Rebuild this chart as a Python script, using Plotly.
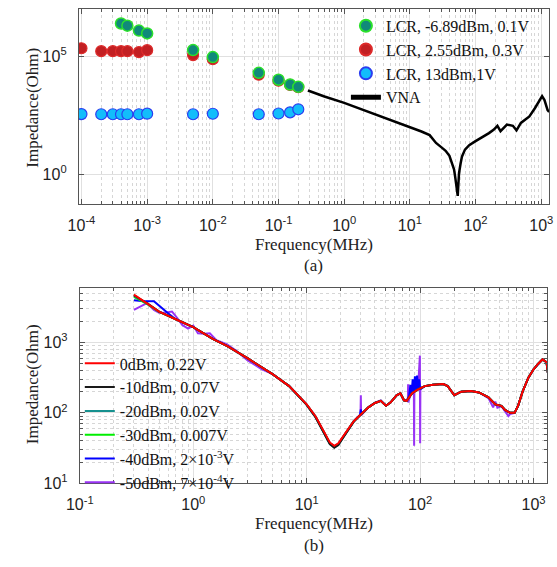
import plotly.graph_objects as go

# ---------------- Panel (a) data ----------------
f_green = [4e-4, 5e-4, 7.5e-4, 1e-3, 5e-3, 1e-2, 5e-2, 0.1, 0.15, 0.2]
z_green = [2.4e6, 1.95e6, 1.2e6, 9.1e5, 1.8e5, 9.1e4, 1.95e4, 1.0e4, 6.3e3, 5.0e3]

f_red = [1e-4, 2e-4, 3e-4, 4e-4, 5e-4, 7.5e-4, 1e-3, 5e-3, 1e-2, 5e-2, 0.1, 0.15, 0.2]
z_red = [2.15e5, 1.62e5, 1.62e5, 1.62e5, 1.62e5, 1.48e5, 1.78e5, 1.1e5, 7.4e4, 1.62e4, 9.1e3, 6.0e3, 4.8e3]

f_blue = [1e-4, 2e-4, 3e-4, 4e-4, 5e-4, 7.5e-4, 1e-3, 5e-3, 1e-2, 5e-2, 0.1, 0.15, 0.2]
z_blue = [350, 345, 345, 345, 345, 345, 365, 345, 362, 345, 372, 415, 560]

f_vna = [0.28, 0.5, 1, 2, 3, 5, 10, 15, 20, 25, 30, 35, 40, 44, 47, 49, 51, 52.5, 53.5, 54.5,
         56, 59, 62, 69, 80, 100, 130, 160, 190, 215, 240, 270, 300, 370, 420, 490, 550,
         660, 800, 940, 1030, 1120, 1250, 1320]
z_vna = [3500, 1950, 1050, 520, 350, 210, 100, 64, 45, 21, 14, 9.8, 6.0, 2.7, 1.6, 0.75, 0.35, 0.2, 0.12, 0.3,
         1.1, 2.7, 5.5, 11, 17, 25, 38, 55, 78, 112, 66, 95, 126, 112, 72, 148, 190,
         280, 620, 1380, 2000, 1380, 520, 430]

# ---------------- Panel (b) data ----------------
f_main = [0.3, 0.4, 0.5, 0.7, 1.0, 1.5, 2, 3, 5, 7, 10, 12, 14, 16, 17.5, 19, 22, 26, 30, 35,
          40, 45, 50, 55, 62, 67, 72, 76, 85, 95, 110, 130, 160, 175, 200, 230, 280, 330,
          400, 460, 520, 560, 620, 680, 730, 800, 900, 1000, 1100, 1200, 1300, 1350]
z_red_b = [4800, 3550, 2750, 2140, 1660, 1120, 890, 600, 355, 240, 132, 89, 56, 38, 34, 37, 52, 76, 95, 120,
           138, 148, 126, 141, 178, 190, 151, 148, 190, 214, 240, 251, 257, 240, 178, 200, 204, 195,
           166, 132, 126, 110, 100, 100, 126, 200, 316, 417, 500, 575, 525, 330]
z_black_b = [4700, 3550, 2750, 2140, 1660, 1120, 890, 600, 355, 240, 130, 86, 53, 36, 32, 35, 50, 75, 95, 120,
             138, 148, 126, 141, 178, 190, 151, 148, 190, 214, 240, 251, 257, 240, 178, 200, 204, 195,
             166, 132, 126, 110, 100, 100, 126, 200, 316, 417, 500, 575, 525, 330]
z_teal_b = [4600, 3500, 2750, 2140, 1660, 1120, 890, 600, 355, 240, 130, 86, 53, 36, 32.5, 35, 50, 75, 95, 120,
            138, 148, 126, 141, 178, 190, 151, 148, 190, 214, 240, 251, 257, 240, 178, 200, 204, 195,
            166, 132, 126, 110, 100, 100, 126, 200, 316, 417, 500, 575, 525, 330]
z_green_b = [4450, 3450, 2720, 2140, 1660, 1120, 890, 600, 355, 240, 131, 88, 55, 37, 33.5, 36, 51, 76, 95, 120,
             138, 148, 126, 141, 178, 190, 151, 148, 190, 214, 240, 251, 257, 240, 178, 200, 204, 195,
             166, 132, 126, 110, 100, 100, 126, 200, 316, 417, 500, 575, 525, 330]

f_blue_b = [0.3, 0.35, 0.45, 0.5, 0.6, 0.7, 1.0, 1.5, 2, 3, 5, 7, 10, 12, 14, 16, 17.5, 19, 22, 26,
            29.5, 30, 30.5, 35, 40, 45, 50, 55, 62, 67, 72, 76, 80, 82, 84, 86, 88, 90, 92, 94, 96, 98,
            100, 110, 130, 160, 175, 200, 230, 280, 330, 400, 460, 520, 560, 620, 680, 730, 800,
            900, 1000, 1100, 1200, 1300, 1350]
z_blue_b = [4000, 3900, 3850, 3300, 2600, 2140, 1660, 1120, 890, 600, 355, 240, 131, 88, 55, 37, 33.5, 36, 51, 76,
            93, 112, 96, 120, 138, 148, 126, 141, 178, 190, 151, 148, 175, 250, 180, 300, 200, 330, 210,
            340, 220, 300, 215, 240, 251, 257, 240, 178, 200, 204, 195, 166, 132, 126, 110, 100, 100,
            126, 200, 316, 417, 500, 575, 525, 330]

f_purple_b = [0.3, 0.35, 0.39, 0.45, 0.5, 0.56, 0.65, 0.72, 0.8, 0.9, 1.0, 1.1, 1.25, 1.4, 1.6, 1.8,
              2.0, 2.4, 3, 4, 5, 7, 10, 12, 14, 16, 17.5, 19, 22, 26, 29.8, 30, 30.2, 35, 40, 45,
              50, 55, 62, 67, 72, 76, 78, 78.3, 78.6, 82, 85, 88, 88.5, 89, 92, 96, 99.5, 100, 100.5,
              110, 130, 160, 175, 200, 230, 280, 330, 400, 440, 460, 480, 520, 560, 600, 620,
              680, 730, 800, 900, 1000, 1100, 1200, 1300, 1350]
z_purple_b = [2900, 3300, 3630, 2900, 2650, 2650, 2750, 2250, 1780, 1580, 1740, 1350, 1330, 1350, 1080, 1000,
              930, 760, 560, 420, 355, 240, 131, 88, 55, 37, 33.5, 36, 51, 76, 95, 178, 92, 120, 140, 150,
              126, 141, 178, 190, 151, 148, 150, 255, 140, 180, 200, 235, 34, 230, 210, 230, 650, 37, 220,
              240, 251, 257, 240, 178, 200, 204, 195, 162, 120, 145, 118, 124, 104, 90, 96,
              100, 126, 200, 316, 417, 500, 575, 525, 330]

legend_a = ["LCR, -6.89dBm, 0.1V", "LCR, 2.55dBm, 0.3V", "LCR, 13dBm,1V", "VNA"]
legend_b = ["0dBm, 0.22V", "-10dBm, 0.07V", "-20dBm, 0.02V", "-30dBm, 0.007V",
            "-40dBm, 2×10<sup>-3</sup>V", "-50dBm, 7×10<sup>-4</sup>V"]

# tick positions / labels
xt_a = [1e-4, 1e-3, 1e-2, 1e-1, 1, 10, 100, 1000]
xl_a = ["10<sup>-4</sup>", "10<sup>-3</sup>", "10<sup>-2</sup>", "10<sup>-1</sup>",
        "10<sup>0</sup>", "10<sup>1</sup>", "10<sup>2</sup>", "10<sup>3</sup>"]
yt_a = [1, 1e5]
yl_a = ["10<sup>0</sup>", "10<sup>5</sup>"]
xt_b = [0.1, 1, 10, 100, 1000]
xl_b = ["10<sup>-1</sup>", "10<sup>0</sup>", "10<sup>1</sup>", "10<sup>2</sup>", "10<sup>3</sup>"]
yt_b = [10, 100, 1000]
yl_b = ["10<sup>1</sup>", "10<sup>2</sup>", "10<sup>3</sup>"]

# minor tick positions (2..9 within each decade)
def minor_positions(k0, k1):
    return [m * 10.0 ** k for k in range(k0, k1 + 1) for m in range(2, 10)]
mx_a = minor_positions(-5, 3)
mx_b = minor_positions(-1, 3)
my_b = minor_positions(1, 3)

SERIF = "Liberation Serif, Times New Roman, serif"
SANS = "Liberation Sans, Arial, sans-serif"

fig = go.Figure()

# panel (a)
fig.add_trace(go.Scatter(x=f_red, y=z_red, mode="markers", name=legend_a[1], legendrank=2,
                         legend="legend", xaxis="x", yaxis="y",
                         marker=dict(size=11, color="#c21f22", line=dict(color="#dd2a2a", width=1.2))))
fig.add_trace(go.Scatter(x=f_green, y=z_green, mode="markers", name=legend_a[0], legendrank=1,
                         legend="legend", xaxis="x", yaxis="y",
                         marker=dict(size=11, color="#10897a", line=dict(color="#2be02b", width=1.5))))
fig.add_trace(go.Scatter(x=f_blue, y=z_blue, mode="markers", name=legend_a[2], legendrank=3,
                         legend="legend", xaxis="x", yaxis="y",
                         marker=dict(size=11, color="#12bdfb", line=dict(color="#2a3df0", width=1.2))))
fig.add_trace(go.Scatter(x=f_vna, y=z_vna, mode="lines", name=legend_a[3], legendrank=4,
                         legend="legend", xaxis="x", yaxis="y",
                         line=dict(color="#000000", width=2.5)))

# panel (b)
cols_b = ["#ff0000", "#1a1a1a", "#16918f", "#00ee00", "#0000ff", "#9932f5"]
series_b = [(f_main, z_red_b), (f_main, z_black_b), (f_main, z_teal_b), (f_main, z_green_b),
            (f_blue_b, z_blue_b), (f_purple_b, z_purple_b)]
for i in [5, 4, 3, 2, 1, 0]:
    fx, zy = series_b[i]
    fig.add_trace(go.Scatter(x=fx, y=zy, mode="lines", name=legend_b[i], legendrank=i + 1,
                             legend="legend2", xaxis="x2", yaxis="y2",
                             line=dict(color=cols_b[i], width=2)))

W, H = 557, 567
def px(x0, x1):
    return [x0 / W, x1 / W]
def py(y0, y1):
    return [1 - y1 / H, 1 - y0 / H]

axis_common = dict(
    type="log", showline=True, linecolor="#555555", linewidth=1, mirror="allticks",
    ticks="inside", ticklen=5, tickcolor="#555555", tickwidth=1, tickmode="array",
    showgrid=True, gridcolor="#e0e0e0", gridwidth=1, zeroline=False,
    tickfont=dict(family=SANS, size=16, color="#222222"),
)
def minor_g(vals):
    return dict(tickmode="array", tickvals=vals, ticks="inside", ticklen=3, tickcolor="#555555",
                showgrid=True, gridcolor="#d6d6d6", griddash="dot", gridwidth=1)

fig.update_layout(
    width=W, height=H, margin=dict(l=0, r=0, t=0, b=0),
    paper_bgcolor="white", plot_bgcolor="white", showlegend=True,
    xaxis=dict(axis_common, domain=px(67, 553), range=[-4.04, 3.12], tickvals=xt_a, ticktext=xl_a,
               anchor="y", minor=minor_g(mx_a), ticklabelstandoff=7),
    yaxis=dict(axis_common, domain=py(9, 207), range=[-1.25, 7], tickvals=yt_a, ticktext=yl_a,
               anchor="x", ticklabelstandoff=8),
    xaxis2=dict(axis_common, domain=px(68, 551), range=[-1, 3.12], tickvals=xt_b, ticktext=xl_b,
                anchor="y2", minor=minor_g(mx_b), ticklabelstandoff=7),
    yaxis2=dict(axis_common, domain=py(293, 491), range=[1, 3.77], tickvals=yt_b, ticktext=yl_b,
                anchor="x2", minor=minor_g(my_b), ticklabelstandoff=8),
    legend=dict(x=343 / W, y=1 - 9 / H, xanchor="left", yanchor="top",
                bgcolor="rgba(255,255,255,0)", font=dict(family=SERIF, size=16, color="#111111"),
                tracegroupgap=0, itemsizing="constant"),
    legend2=dict(x=68 / W, y=1 - 352 / H, xanchor="left", yanchor="top",
                 bgcolor="rgba(255,255,255,0)", font=dict(family=SERIF, size=16, color="#111111"),
                 tracegroupgap=0),
    annotations=[
        dict(text="Frequency(MHz)", x=310 / W, y=1 - 248 / H, xref="paper", yref="paper",
             xanchor="center", yanchor="middle",
             showarrow=False, font=dict(family=SERIF, size=17, color="#222222")),
        dict(text="(a)", x=310 / W, y=1 - 270 / H, xref="paper", yref="paper",
             xanchor="center", yanchor="middle",
             showarrow=False, font=dict(family=SERIF, size=17, color="#222222")),
        dict(text="Impedance(Ohm)", x=19 / W, y=1 - 109 / H, xref="paper", yref="paper",
             xanchor="center", yanchor="middle",
             showarrow=False, textangle=-90, font=dict(family=SERIF, size=17, color="#222222")),
        dict(text="Frequency(MHz)", x=310 / W, y=1 - 532 / H, xref="paper", yref="paper",
             xanchor="center", yanchor="middle",
             showarrow=False, font=dict(family=SERIF, size=17, color="#222222")),
        dict(text="(b)", x=310 / W, y=1 - 554 / H, xref="paper", yref="paper",
             xanchor="center", yanchor="middle",
             showarrow=False, font=dict(family=SERIF, size=17, color="#222222")),
        dict(text="Impedance(Ohm)", x=19 / W, y=1 - 390 / H, xref="paper", yref="paper",
             xanchor="center", yanchor="middle",
             showarrow=False, textangle=-90, font=dict(family=SERIF, size=17, color="#222222")),
    ],
)

fig.write_html("out.html")
